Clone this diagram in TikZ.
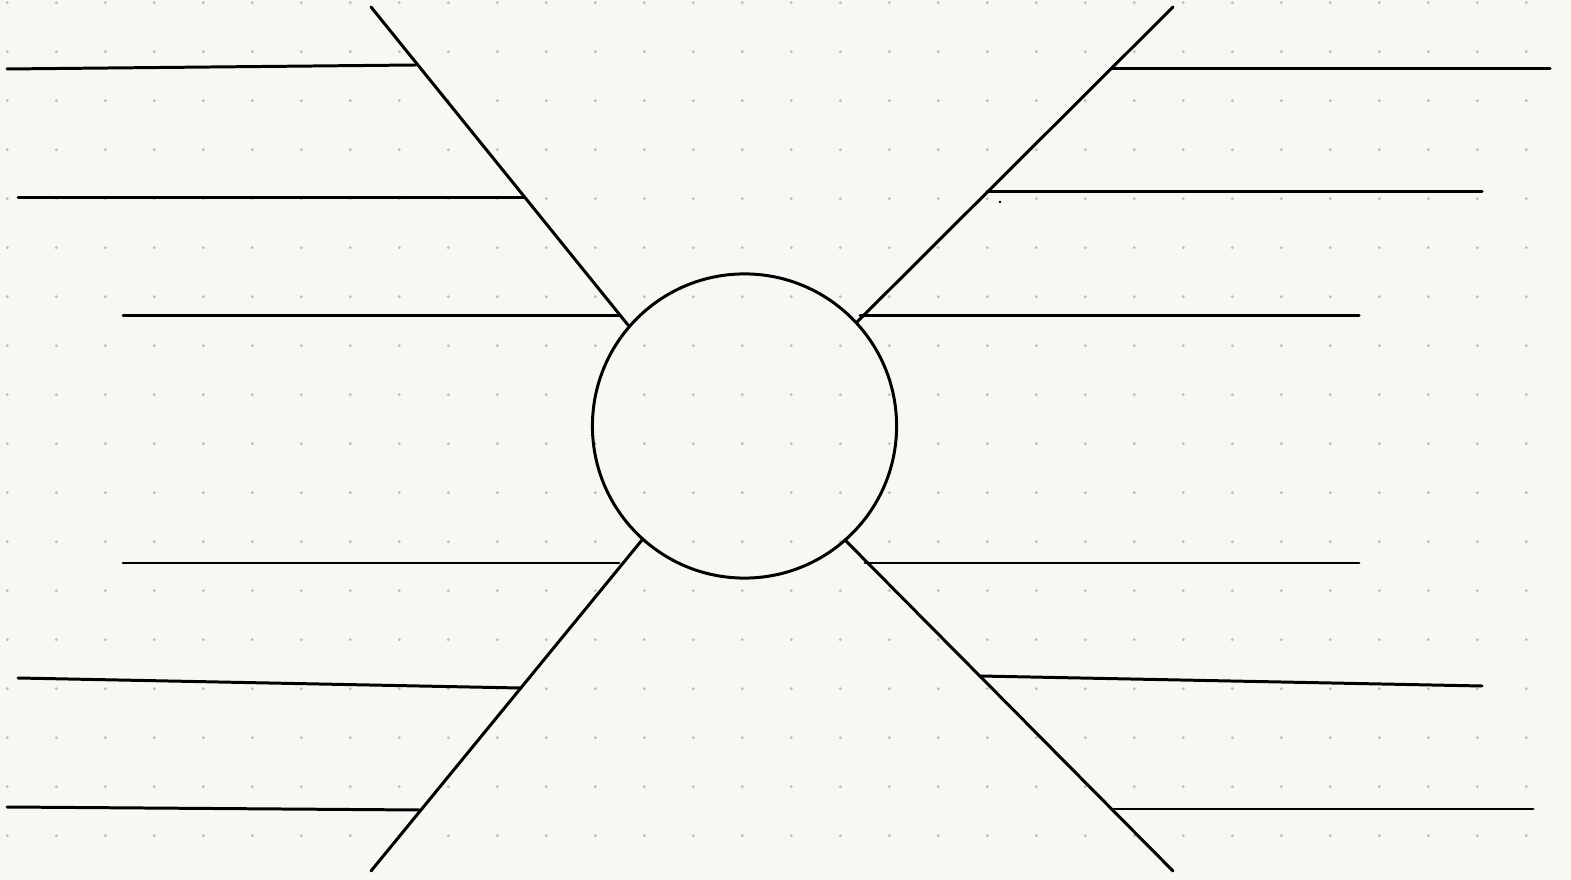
\documentclass[tikz,border=0pt]{standalone}
\usepackage{xcolor}
\usepackage{tikz}
\usetikzlibrary{positioning}

\definecolor{paper}{RGB}{248,247,243}
\definecolor{dotgray}{RGB}{190,188,183}

\begin{document}
\begin{tikzpicture}[
    x=0.01cm, y=-0.01cm,
    ink/.style={draw=black, line width=0.85pt, line cap=round},
    hub/.style={circle, ink, minimum size=3.04cm, inner sep=0pt},
    griddot/.style={fill=dotgray}
]
    % paper and dot grid
    \fill[paper] (0,0) rectangle (1571,880);
    \useasboundingbox (0,0) rectangle (1571,880);
    \foreach \i in {0,...,31}
        \foreach \j in {0,...,17}
            \fill[griddot] (7.3+49*\i, 2.7+49*\j) circle (0.45pt);

    % centre
    \node[hub] (hub) at (744.5,426) {};

    % spokes
    \coordinate (ulTip) at (371,7);
    \coordinate (urTip) at (1173,7);
    \coordinate (llTip) at (371,871);
    \coordinate (lrTip) at (1173,871);
    \coordinate (ulBase) at (628,325);
    \coordinate (urBase) at (857,322);
    \coordinate (llBase) at (642,540);
    \coordinate (lrBase) at (845,540);
    \draw[ink] (ulTip) -- (ulBase);
    \draw[ink] (urTip) -- (urBase);
    \draw[ink] (llBase) -- (llTip);
    \draw[ink] (lrBase) -- (lrTip);

    % left branches
    \coordinate (l1a) at (7,69);    \coordinate (l1b) at (416,65);
    \coordinate (l2a) at (18,198);  \coordinate (l2b) at (524,198);
    \coordinate (l3a) at (123,316); \coordinate (l3b) at (620,316);
    \coordinate (l4a) at (123,563); \coordinate (l4b) at (619,563);
    \coordinate (l5a) at (18,678);  \coordinate (l5b) at (520,688);
    \coordinate (l6a) at (7,807);   \coordinate (l6b) at (420,810);
    % right branches
    \coordinate (r1a) at (1112,69); \coordinate (r1b) at (1550,69);
    \coordinate (r2a) at (987,192); \coordinate (r2b) at (1482,192);
    \coordinate (r3a) at (860,316); \coordinate (r3b) at (1359,316);
    \coordinate (r4a) at (865,563); \coordinate (r4b) at (1359,563);
    \coordinate (r5a) at (980,676); \coordinate (r5b) at (1482,686);
    \coordinate (r6a) at (1112,809);\coordinate (r6b) at (1533,809);

    \foreach \s in {l,r}
        \foreach \k in {1,...,6}
            \draw[ink] (\s\k a) -- (\s\k b);

    % stray pen mark
    \fill (1000,202) circle (0.4pt);
\end{tikzpicture}
\end{document}
